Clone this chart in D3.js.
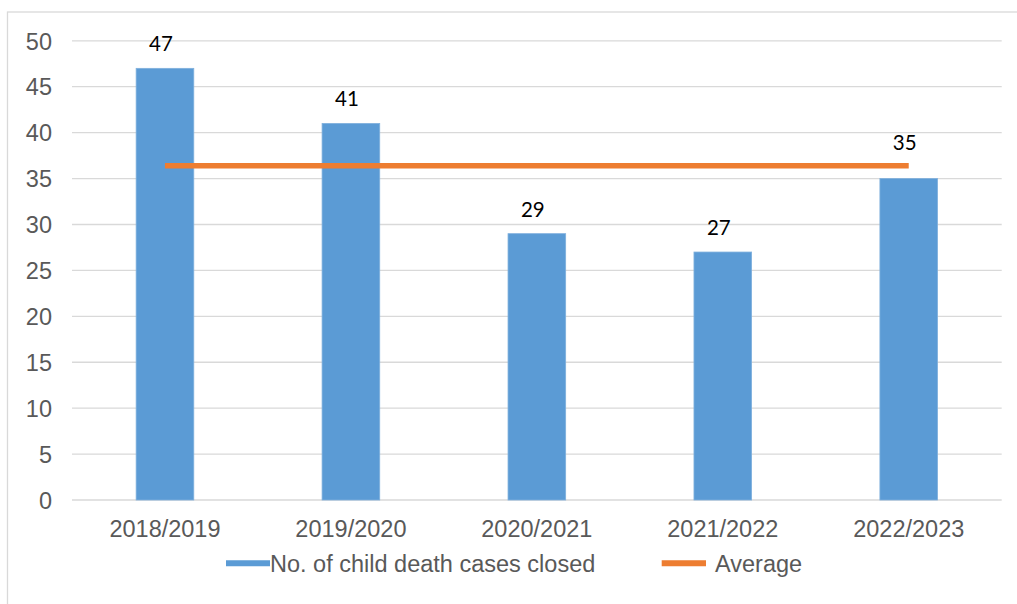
<!DOCTYPE html>
<html>
<head>
<meta charset="utf-8">
<script src="https://cdn.jsdelivr.net/npm/d3@7"></script>
<style>
  html, body { margin: 0; padding: 0; background: #fff; }
  svg { display: block; }
</style>
</head>
<body>
<script>
// Child death cases closed per financial year, with the average line
const categories = ["2018/2019", "2019/2020", "2020/2021", "2021/2022", "2022/2023"];
const casesClosed = [47, 41, 29, 27, 35];
const averageValues = [36.4, 36.4, 36.4, 36.4, 36.4];
const yTicks = [0, 5, 10, 15, 20, 25, 30, 35, 40, 45, 50];
const seriesNames = ["No. of child death cases closed", "Average"];

const W = 1017, H = 604;
const BLUE = "#5B9BD5", ORANGE = "#ED7D31", GRID = "#d9d9d9", AXIS_TEXT = "#595959";
const tickFont = "'Liberation Sans', Arial, sans-serif";
const labelFont = "Lato, 'Open Sans', sans-serif";

const svg = d3.select("body").append("svg")
  .attr("width", W).attr("height", H);

// chart frame (runs past the right and bottom edges)
svg.append("rect")
  .attr("x", 7.5).attr("y", 12)
  .attr("width", 1030).attr("height", 620)
  .attr("fill", "none").attr("stroke", GRID).attr("stroke-width", 1.3);

const x = d3.scaleBand()
  .domain(categories)
  .range([72, 1001.7])
  .paddingInner(0.69)
  .paddingOuter(0.345);

const y = d3.scaleLinear().domain([0, 50]).range([500, 40.8]);

const cx = d => x(d) + x.bandwidth() / 2;

// horizontal gridlines
svg.append("g")
  .selectAll("line")
  .data(yTicks)
  .join("line")
  .attr("x1", 72).attr("x2", 1001.7)
  .attr("y1", d => y(d)).attr("y2", d => y(d))
  .attr("stroke", GRID).attr("stroke-width", 1.3);

// y axis labels
const yAxis = d3.axisLeft(y).tickValues(yTicks).tickSize(0).tickPadding(0);
const gy = svg.append("g").attr("transform", "translate(52,0)").call(yAxis);
gy.select(".domain").remove();
gy.selectAll("text")
  .attr("font-family", tickFont).attr("font-size", 23.5)
  .attr("fill", AXIS_TEXT).attr("dy", "0.35em");

// x axis labels
const xAxis = d3.axisBottom(x).tickSize(0).tickPadding(0);
const gx = svg.append("g").attr("transform", "translate(0,500)").call(xAxis);
gx.select(".domain").remove();
gx.selectAll("text")
  .attr("font-family", tickFont).attr("font-size", 23.5)
  .attr("fill", AXIS_TEXT).attr("dy", null).attr("y", 36.7);

// bars
const data = categories.map((c, i) => ({ c, v: casesClosed[i], avg: averageValues[i] }));
svg.append("g")
  .selectAll("rect")
  .data(data)
  .join("rect")
  .attr("x", d => x(d.c)).attr("width", x.bandwidth())
  .attr("y", d => y(d.v)).attr("height", d => y(0) - y(d.v))
  .attr("fill", BLUE)
  .attr("stroke", "#7fb0dd").attr("stroke-width", 0.8);

// average line
const avgLine = d3.line().x(d => cx(d.c)).y(d => y(d.avg));
svg.append("path")
  .datum(data)
  .attr("d", avgLine)
  .attr("fill", "none").attr("stroke", ORANGE).attr("stroke-width", 5.5);

// value labels, lifted above the average line where they would cross it
svg.append("g")
  .selectAll("text")
  .data(data)
  .join("text")
  .attr("x", d => cx(d.c) - 4)
  .attr("y", d => {
    const base = y(d.v) - 17;
    const top = base - 15;
    const lineY = y(d.avg);
    if (y(d.v) > lineY && top < lineY + 3) return lineY - 16;
    return base;
  })
  .attr("text-anchor", "middle")
  .attr("font-family", labelFont).attr("font-size", 20.5)
  .attr("fill", "#000")
  .text(d => d.v);

// legend
const legend = svg.append("g");
const legendItems = [
  { name: seriesNames[0], color: BLUE, x1: 226, x2: 270, tx: 270 },
  { name: seriesNames[1], color: ORANGE, x1: 661.7, x2: 706, tx: 715 }
];
legend.selectAll("line")
  .data(legendItems)
  .join("line")
  .attr("x1", d => d.x1).attr("x2", d => d.x2)
  .attr("y1", 563.2).attr("y2", 563.2)
  .attr("stroke", d => d.color).attr("stroke-width", 6);
legend.selectAll("text")
  .data(legendItems)
  .join("text")
  .attr("x", d => d.tx).attr("y", 571.7)
  .attr("font-family", tickFont).attr("font-size", 23.5)
  .attr("fill", AXIS_TEXT)
  .text(d => d.name);
</script>
</body>
</html>
